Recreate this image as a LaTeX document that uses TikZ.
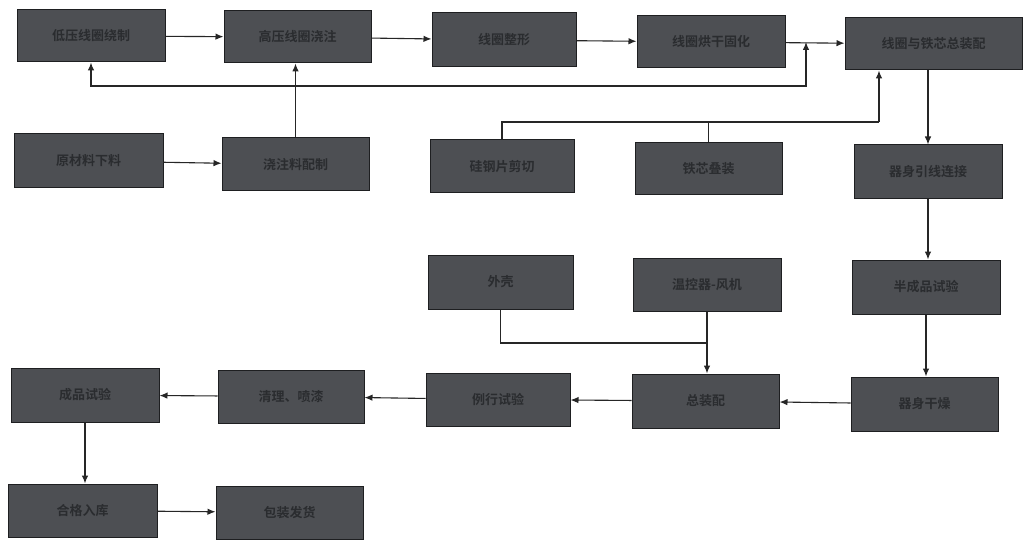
\documentclass[tikz,border=0pt]{standalone}
\usepackage{fontspec}
\newfontfamily\cjk{Noto Sans CJK SC}[BoldFont={Noto Sans CJK SC Bold}]
\usetikzlibrary{arrows.meta}
\definecolor{boxfill}{HTML}{4D4F53}
\definecolor{boxline}{HTML}{1E1F21}
\definecolor{boxtext}{HTML}{2A2C2F}
\tikzset{
  box/.style={draw=boxline, line width=1pt, fill=boxfill, text=boxtext,
    font=\cjk\bfseries\fontsize{13}{15}\selectfont, inner sep=0pt},
  arr/.style={draw=black!85, line width=1.1pt, -{Latex[length=8pt,width=6.5pt]}},
  ln/.style={draw=black!85, line width=1.1pt}
}
\begin{document}
\begin{tikzpicture}[x=1pt,y=-1pt]
\useasboundingbox[fill=white] (0,0) rectangle (1025,540);
% row 1
\node[box, minimum width=148pt, minimum height=52pt] (A1) at (91,36) {低压线圈绕制};
\node[box, minimum width=147pt, minimum height=52pt] (A2) at (297.5,37) {高压线圈浇注};
\node[box, minimum width=144pt, minimum height=54pt] (A3) at (504,40) {线圈整形};
\node[box, minimum width=148pt, minimum height=52pt] (A4) at (711,42) {线圈烘干固化};
\node[box, minimum width=177pt, minimum height=52pt] (A5) at (933.5,44) {线圈与铁芯总装配};
% row 2
\node[box, minimum width=149pt, minimum height=54pt] (B1) at (88.5,161) {原材料下料};
\node[box, minimum width=147pt, minimum height=53pt] (B2) at (295.5,164.5) {浇注料配制};
\node[box, minimum width=144pt, minimum height=53pt] (B3) at (502,166.5) {硅钢片剪切};
\node[box, minimum width=147pt, minimum height=52pt] (B4) at (708.5,169) {铁芯叠装};
\node[box, minimum width=148pt, minimum height=54pt] (B5) at (928,172) {器身引线连接};
% row 3
\node[box, minimum width=145pt, minimum height=54pt] (C1) at (500.5,282) {外壳};
\node[box, minimum width=148pt, minimum height=53pt] (C2) at (707,284.5) {温控器-风机};
\node[box, minimum width=148pt, minimum height=54pt] (C3) at (926,287) {半成品试验};
% row 4
\node[box, minimum width=148pt, minimum height=54pt] (D1) at (85,395) {成品试验};
\node[box, minimum width=146pt, minimum height=53pt] (D2) at (291,396.5) {清理、喷漆};
\node[box, minimum width=144pt, minimum height=53pt] (D3) at (498,399.5) {例行试验};
\node[box, minimum width=147pt, minimum height=54pt] (D4) at (705.5,401) {总装配};
\node[box, minimum width=147pt, minimum height=54pt] (D5) at (924.5,404) {器身干燥};
% row 5
\node[box, minimum width=149pt, minimum height=53pt] (E1) at (82.5,510.5) {合格入库};
\node[box, minimum width=147pt, minimum height=53pt] (E2) at (289.5,512.5) {包装发货};
% junction coordinates
\coordinate (fA) at (296,86);
\coordinate (fB) at (806,86);
\coordinate (g) at (879,122);
\coordinate (h) at (707,343);
% row 1 flow
\draw[arr] (A1) -- (A2);
\draw[arr] (A2) -- (A3);
\draw[arr] (A3) -- (A4);
\draw[arr] (A4) -- (A5);
% feedback line
\draw[arr] (fA) -| (A1.south);
\draw[arr] (fA) -- (fB) -- (fB |- A4.east);
% row 2 flow
\draw[arr] (B1) -- (B2);
\draw[arr] (B2.north) -- (B2.north |- A2.south);
% iron core to assembly
\draw[ln] (B3.north) |- (g);
\draw[ln] (B4.north) -- (B4.north |- g);
\draw[arr] (g) -- (g |- A5.south);
% right column
\draw[arr] (B5.north |- A5.south) -- (B5.north);
\draw[arr] (B5.south) -- (B5.south |- C3.north);
\draw[arr] (C3.south) -- (C3.south |- D5.north);
% accessories
\draw[ln] (C1.south) |- (h);
\draw[arr] (C2.south) -- (C2.south |- D4.north);
% row 4 flow
\draw[arr] (D5) -- (D4);
\draw[arr] (D4) -- (D3);
\draw[arr] (D3) -- (D2);
\draw[arr] (D2) -- (D1);
\draw[arr] (D1.south) -- (D1.south |- E1.north);
\draw[arr] (E1) -- (E2);
\end{tikzpicture}
\end{document}
